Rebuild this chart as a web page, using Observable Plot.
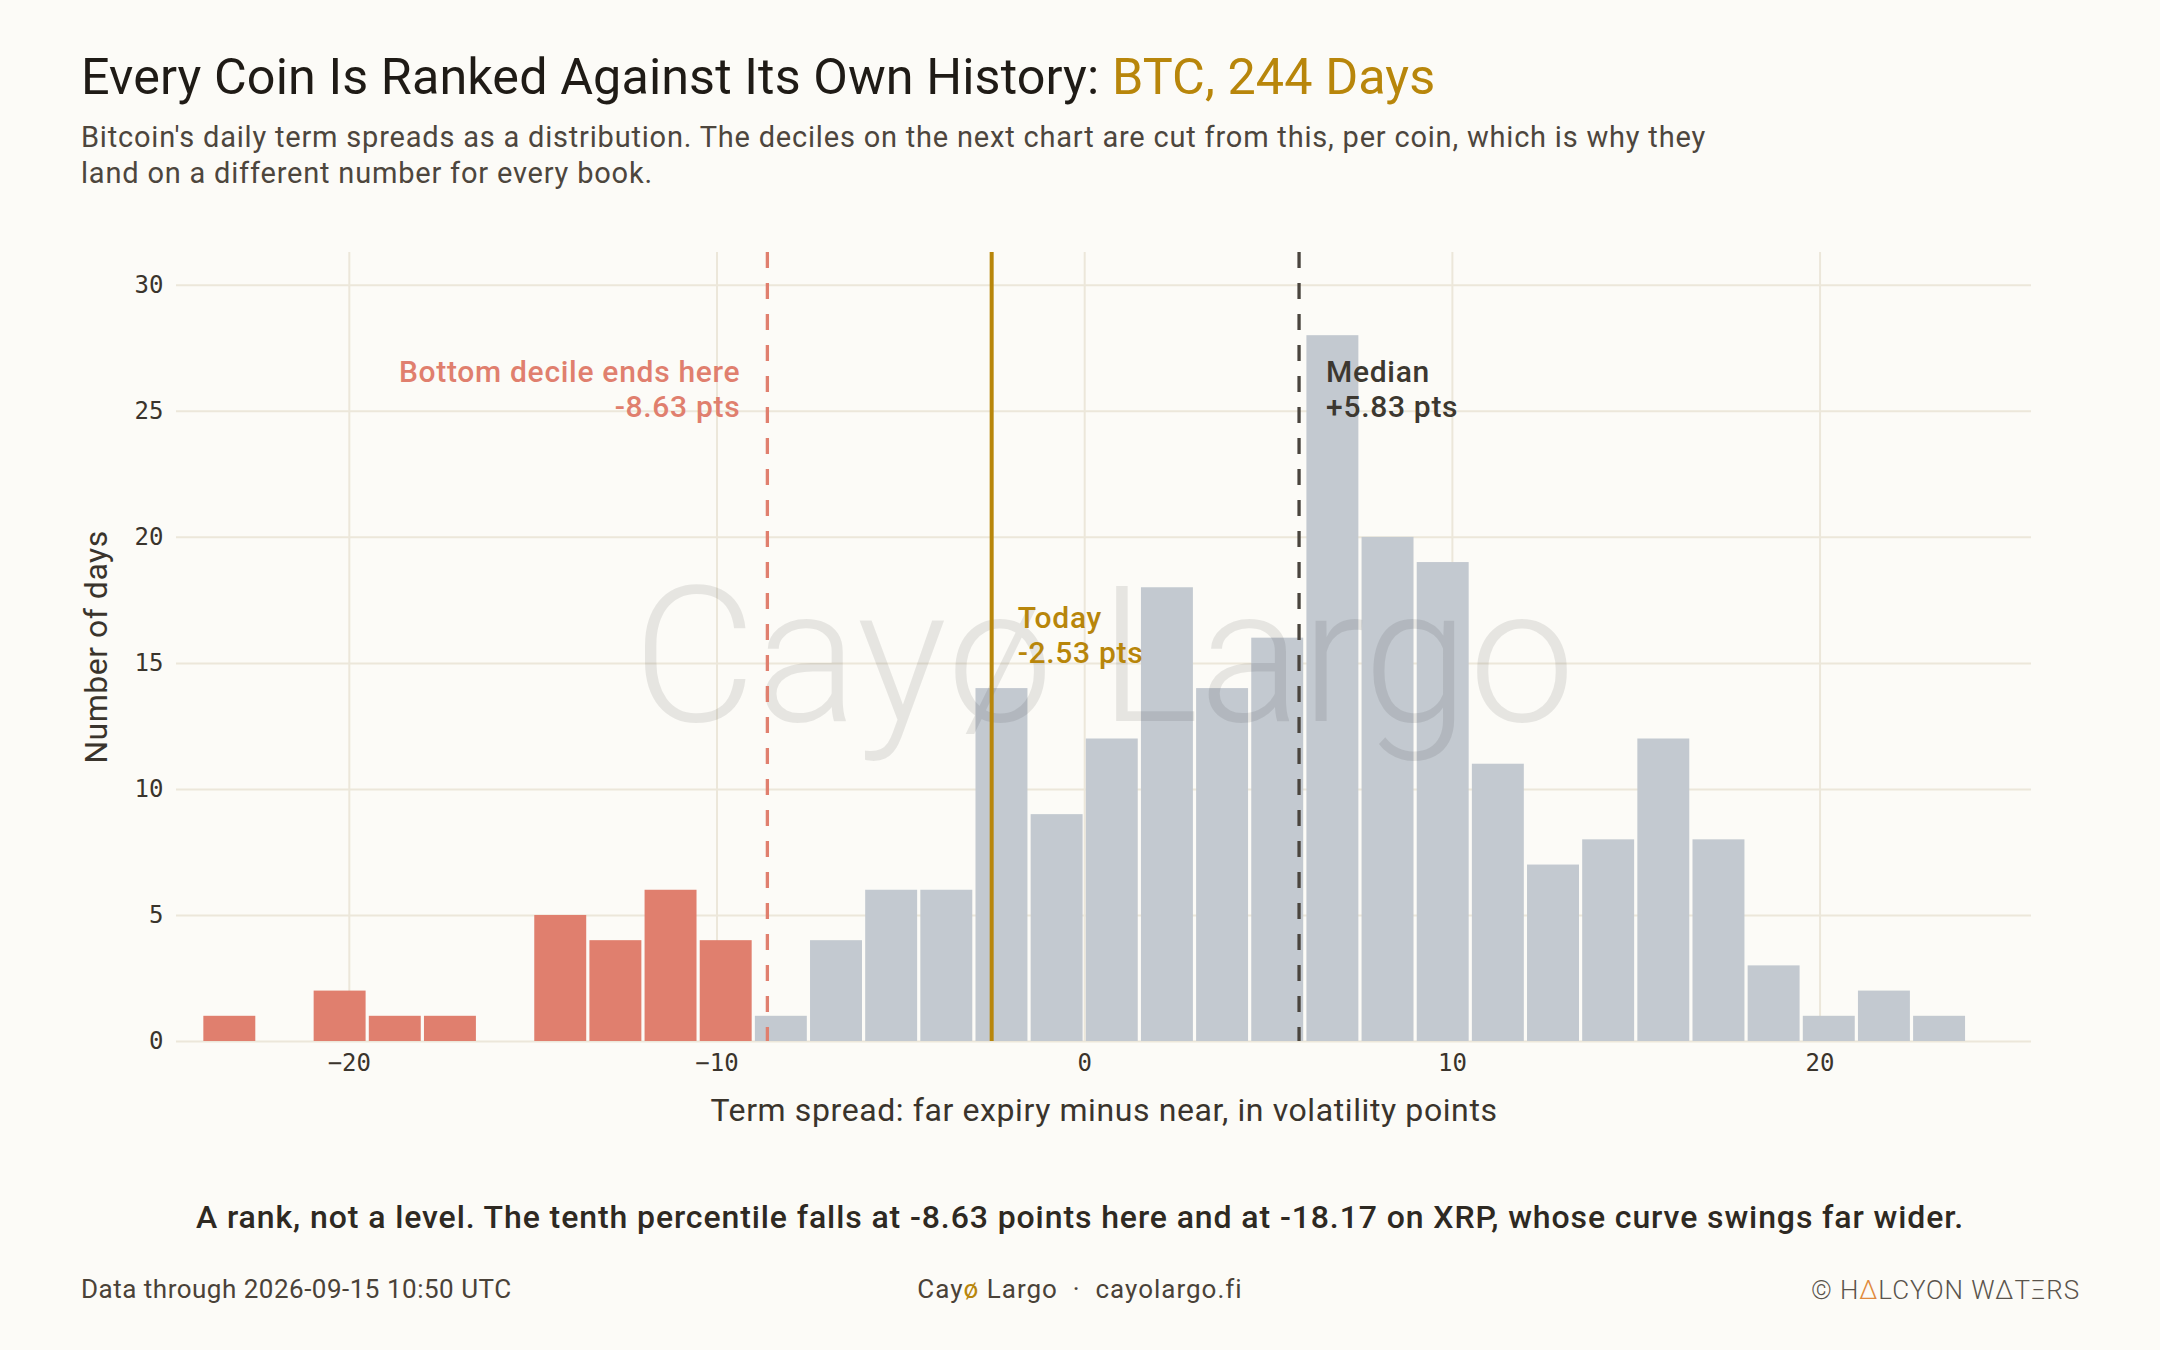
<!DOCTYPE html>
<html>
<head>
<meta charset="utf-8">
<script src="https://cdn.jsdelivr.net/npm/d3@7"></script>
<script src="https://cdn.jsdelivr.net/npm/@observablehq/plot@0.6"></script>
<style>
  html, body { margin: 0; padding: 0; background: #fcfbf7; }
  body { width: 2160px; height: 1350px; position: relative; overflow: hidden; font-family: Roboto, "Noto Sans", sans-serif; }
  .abs { position: absolute; white-space: nowrap; }
  #title { left: 81px; top: 52px; font-size: 50.3px; line-height: 1; color: #1f1b16; letter-spacing: 0.1px; }
  #title .hl { color: #b8860b; }
  #subtitle { left: 81px; top: 119px; font-size: 29px; line-height: 36px; color: #4d463d; letter-spacing: 0.8px; }
  #chart { position: absolute; left: 0; top: 200px; }
  #caption { left: 0; width: 2160px; text-align: center; top: 1201px; font-size: 32px; line-height: 1; font-weight: 500; color: #2e2922; letter-spacing: 0.9px; }
  #foot-left { left: 81px; top: 1276px; font-size: 26px; line-height: 1; color: #4a4238; letter-spacing: 0.5px; }
  #foot-mid { left: 0; width: 2160px; text-align: center; top: 1276px; font-size: 26px; line-height: 1; color: #4a4238; letter-spacing: 1px; }
  #foot-mid .o { color: #b8860b; }
  #foot-right { right: 80px; top: 1277px; font-size: 26px; line-height: 1; color: #5a544c; font-weight: 300; letter-spacing: 0.9px; }
  #foot-right .o { color: #e08a3c; }
</style>
</head>
<body>
<div id="title" class="abs">Every Coin Is Ranked Against Its Own History: <span class="hl">BTC, 244 Days</span></div>
<div id="subtitle" class="abs">Bitcoin's daily term spreads as a distribution. The deciles on the next chart are cut from this, per coin, which is why they<br>land on a different number for every book.</div>
<div id="chart"></div>
<div id="caption" class="abs">A rank, not a level. The tenth percentile falls at -8.63 points here and at -18.17 on XRP, whose curve swings far wider.</div>
<div id="foot-left" class="abs">Data through 2026-09-15 10:50 UTC</div>
<div id="foot-mid" class="abs">Cay<span class="o">ø</span> Largo &nbsp;·&nbsp; cayolargo.fi</div>
<div id="foot-right" class="abs">© H<span class="o">Δ</span>LCYON WΔTΞRS</div>
<script>
// ---- Data ----
const binEdges = [-24, -22.5, -21, -19.5, -18, -16.5, -15, -13.5, -12, -10.5, -9, -7.5, -6, -4.5, -3, -1.5, 0, 1.5, 3, 4.5, 6, 7.5, 9, 10.5, 12, 13.5, 15, 16.5, 18, 19.5, 21, 22.5, 24];
const dayCounts = [1, 0, 2, 1, 1, 0, 5, 4, 6, 4, 1, 4, 6, 6, 14, 9, 12, 18, 14, 16, 28, 20, 19, 11, 7, 8, 12, 8, 3, 1, 2, 1];
const bottomDecile = -8.63;
const median = 5.83;
const today = -2.53;
const xTicks = [-20, -10, 0, 10, 20];
const yTicks = [0, 5, 10, 15, 20, 25, 30];
const xLabel = "Term spread: far expiry minus near, in volatility points";
const yLabel = "Number of days";
const decileLabel = "Bottom decile ends here\n-8.63 pts";
const medianLabel = "Median\n+5.83 pts";
const todayLabel = "Today\n-2.53 pts";
const watermark = "Cayø Largo";

const bins = dayCounts.map((c, i) => ({x1: binEdges[i], x2: binEdges[i + 1], count: c}))
  .filter(d => d.count > 0);

const RED = "#e07f6e", GREY = "#c3c9d0", GOLD = "#b8860b", DARK = "#4a453e", GRID = "#ece7da";
const FONT = "Roboto, 'Noto Sans', sans-serif";

const chart = Plot.plot({
  width: 2160,
  height: 950,
  marginLeft: 176,
  marginRight: 129,
  marginTop: 52,
  marginBottom: 109,
  style: {background: "transparent", fontFamily: "'DejaVu Sans Mono', monospace", fontSize: "24px", color: "#3a342c"},
  x: {domain: [-24.7, 25.75], ticks: xTicks},
  y: {domain: [0, 31.3], ticks: yTicks},
  marks: [
    Plot.gridX(xTicks, {stroke: GRID, strokeOpacity: 1, strokeWidth: 2}),
    Plot.gridY(yTicks, {stroke: GRID, strokeOpacity: 1, strokeWidth: 2}),
    Plot.rectY(bins, {
      x1: "x1", x2: "x2", y: "count",
      fill: d => (d.x2 <= bottomDecile ? RED : GREY),
      insetLeft: 1.6, insetRight: 1.6
    }),
    Plot.text([watermark], {
      frameAnchor: "middle", dy: 13, fontSize: 190, fontWeight: 300,
      fontFamily: FONT, fill: "#000", fillOpacity: 0.085
    }),
    Plot.ruleX([bottomDecile], {stroke: RED, strokeWidth: 3.3, strokeDasharray: "16,15"}),
    Plot.ruleX([median], {stroke: DARK, strokeWidth: 3.3, strokeDasharray: "16,15"}),
    Plot.ruleX([today], {stroke: GOLD, strokeWidth: 4}),
    Plot.axisX({ticks: xTicks, tickSize: 0, tickPadding: 12, label: null}),
    Plot.axisY({ticks: yTicks, tickSize: 0, tickPadding: 13, label: null}),
    Plot.text([decileLabel], {
      x: [bottomDecile], frameAnchor: "top", dy: 136, dx: -27, textAnchor: "end", lineAnchor: "middle",
      lineHeight: 1.15, fontSize: 30, fontWeight: 500, fontFamily: FONT, fill: RED
    }),
    Plot.text([medianLabel], {
      x: [median], frameAnchor: "top", dy: 136, dx: 27, textAnchor: "start", lineAnchor: "middle",
      lineHeight: 1.15, fontSize: 30, fontWeight: 500, fontFamily: FONT, fill: "#3d3830"
    }),
    Plot.text([todayLabel], {
      x: [today], frameAnchor: "top", dy: 382, dx: 26, textAnchor: "start", lineAnchor: "middle",
      lineHeight: 1.15, fontSize: 30, fontWeight: 500, fontFamily: FONT, fill: GOLD
    }),
    Plot.text([yLabel], {
      frameAnchor: "left", textAnchor: "middle", dx: -80, rotate: -90, fontSize: 32, fontFamily: FONT,
      fill: "#3a342c"
    }),
    Plot.text([xLabel], {
      frameAnchor: "bottom", dy: 69, lineAnchor: "middle", fontSize: 32, fontFamily: FONT,
      fill: "#3a342c"
    })
  ]
});
// letter spacing for the annotation and axis-title texts
const spacing = [
  [decileLabel.split("\n")[0], "0.7px"],
  [medianLabel.split("\n")[0], "0.7px"],
  [todayLabel.split("\n")[0], "0.7px"],
  [yLabel, "0.5px"],
  [xLabel, "0.6px"]
];
d3.select(chart).selectAll("text").each(function () {
  const t = this.textContent;
  for (const [prefix, ls] of spacing) if (t.startsWith(prefix)) this.style.letterSpacing = ls;
});
document.getElementById("chart").appendChild(chart);
</script>
</body>
</html>
